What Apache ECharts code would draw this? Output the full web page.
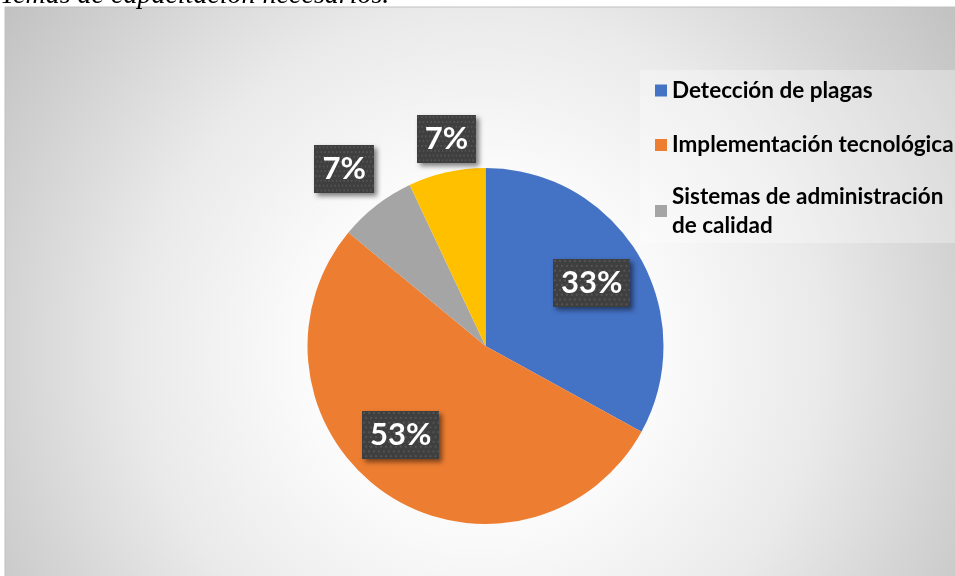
<!DOCTYPE html>
<html>
<head>
<meta charset="utf-8">
<script src="https://cdn.jsdelivr.net/npm/echarts@6/dist/echarts.min.js"></script>
<style>
  html, body { margin: 0; padding: 0; background: #ffffff; }
  #chart { width: 955px; height: 576px; }
</style>
</head>
<body>
<div id="chart"></div>
<script>
// Survey answers: training topics the respondents consider necessary (share, %)
const categories = [
  'Detección de plagas',
  'Implementación tecnológica',
  'Sistemas de administración de calidad',
  'Otros temas'
];
const shares = [33, 53, 7, 7];
const legendNames = categories.slice(0, 3);
const captionText = 'Temas de capacitación necesarios.';

// Office-style palette
const sliceColors = ['#4472C4', '#ED7D31', '#A5A5A5', '#FFC000'];
// Nudges that move each percentage tag away from its default inner spot
const labelOffsets = [[27, -16], [-33, 13], [-85, -104], [-19, -117]];

// Dark dotted texture used behind the percentage tags
function tagTexture(w, h) {
  const c = document.createElement('canvas');
  c.width = w; c.height = h;
  const g = c.getContext('2d');
  g.fillStyle = '#3f3f3f';
  g.fillRect(0, 0, w, h);
  g.fillStyle = '#545454';
  let row = 0;
  for (let y = 1; y < h; y += 5, row++) {
    for (let x = (row % 2 ? 3 : 1); x < w; x += 5) g.fillRect(x, y, 2, 2);
  }
  return c;
}
const texture = tagTexture(78, 50);

const legendText = {
  fontFamily: 'Lato',
  fontWeight: 'bold',
  fontSize: 22.5,
  color: '#000000',
  lineHeight: 29
};

const chart = echarts.init(document.getElementById('chart'), null, { renderer: 'canvas' });

chart.setOption({
  animation: false,
  backgroundColor: '#ffffff',
  graphic: [
    {
      type: 'rect',
      z: -10,
      silent: true,
      shape: { x: 5, y: 7, width: 952, height: 571 },
      style: {
        fill: {
          type: 'radial', x: 480, y: 350, r: 620, global: true,
          colorStops: [
            { offset: 0, color: '#ffffff' },
            { offset: 0.3, color: '#fafafa' },
            { offset: 0.55, color: '#eaeaea' },
            { offset: 0.77, color: '#d3d3d3' },
            { offset: 0.94, color: '#c2c2c2' },
            { offset: 1, color: '#bdbdbd' }
          ]
        },
        stroke: '#c0c0c0',
        lineWidth: 1
      }
    },
    {
      // caption of the figure, mostly above the visible page edge
      type: 'text',
      silent: true,
      x: 0,
      y: 9.5,
      style: {
        text: captionText,
        font: 'italic 28px "Liberation Serif"',
        fill: '#000000',
        verticalAlign: 'bottom'
      }
    }
  ],
  legend: {
    orient: 'vertical',
    left: 640,
    top: 70,
    icon: 'rect',
    itemWidth: 12,
    itemHeight: 12,
    itemGap: 25.5,
    padding: [6, 0, 6, 15],
    backgroundColor: 'rgba(255,255,255,0.3)',
    selectedMode: false,
    textStyle: legendText,
    data: legendNames.map((name, i) => (
      i === 2
        // long entry wraps onto a second line, first line level with the swatch
        ? { name: name, textStyle: Object.assign({}, legendText, { width: 300, overflow: 'break', padding: [0, 0, -29, 0] }) }
        : { name: name }
    ))
  },
  series: [
    {
      type: 'pie',
      center: [485.5, 346],
      radius: 178,
      startAngle: 90,
      clockwise: true,
      silent: true,
      emphasis: { disabled: true },
      labelLine: { show: false },
      label: {
        show: true,
        position: 'inside',
        formatter: '{c}%',
        color: '#ffffff',
        fontFamily: 'Lato',
        fontWeight: 'bold',
        fontSize: 31,
        backgroundColor: { image: texture },
        padding: [9, 8, 8, 8],
        shadowColor: 'rgba(0,0,0,0.5)',
        shadowBlur: 5,
        shadowOffsetX: 3,
        shadowOffsetY: 3
      },
      data: categories.map((name, i) => ({
        name: name,
        value: shares[i],
        itemStyle: { color: sliceColors[i] },
        label: { offset: labelOffsets[i] }
      }))
    }
  ]
});
</script>
</body>
</html>
